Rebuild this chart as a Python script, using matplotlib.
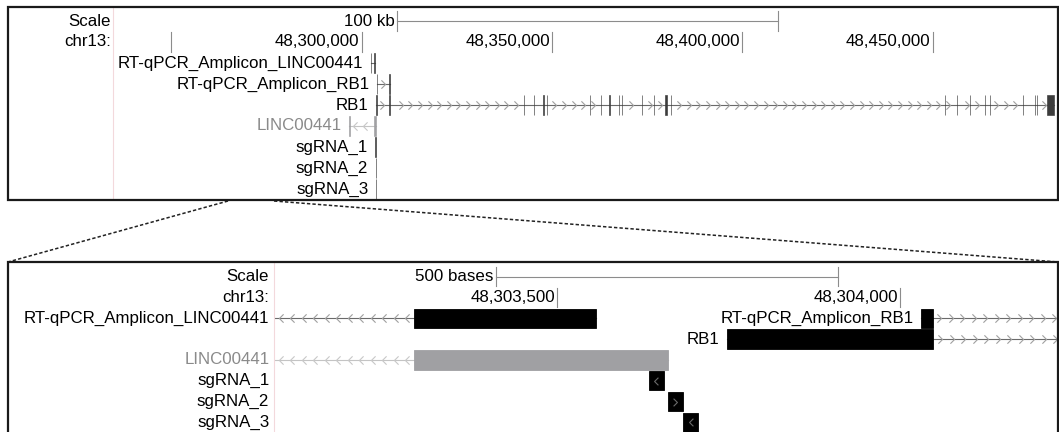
import matplotlib
matplotlib.use('Agg')

import matplotlib.pyplot as plt
from matplotlib.patches import Rectangle
from matplotlib.lines import Line2D
from matplotlib.path import Path
import numpy as np

plt.rcParams['font.family'] = ['Liberation Sans', 'DejaVu Sans']

W, H = 1059, 432
FS = 12.2

# ---- data (chr13, hg38) ----
top_xlim = (48234700, 48482900)
top_ticks = [48250000, 48300000, 48350000, 48400000, 48450000]
top_tick_labels = ['', '48,300,000', '48,350,000', '48,400,000', '48,450,000']
top_scale = (48309350, 48409350)
top_scale_label = '100 kb'

bot_xlim = (48303086, 48304231)
bot_ticks = [48303500, 48304000]
bot_tick_labels = ['48,303,500', '48,304,000']
bot_scale = (48303410, 48303910)
bot_scale_label = '500 bases'

names = ['RT-qPCR_Amplicon_LINC00441', 'RT-qPCR_Amplicon_RB1', 'RB1', 'LINC00441',
         'sgRNA_1', 'sgRNA_2', 'sgRNA_3']
strands = ['-', '+', '+', '-', '-', '+', '-']
grey_item = [False, False, False, True, False, False, False]

amp_linc_starts = [48302364, 48303291]
amp_linc_ends = [48302420, 48303556]
amp_rb1_starts = [48304031, 48307250]
amp_rb1_ends = [48304049, 48307380]
rb1_starts = [48303747, 48307250, 48342600, 48345250, 48347700, 48348600, 48359950,
              48362780, 48365040, 48367590, 48368300, 48373550, 48376780, 48379700,
              48381150, 48453230, 48456300, 48459800, 48463740, 48465050, 48473640,
              48476870, 48477320, 48479950]
rb1_ends = [48304049, 48307380, 48342720, 48345350, 48347800, 48348700, 48360050,
            48362880, 48365140, 48367690, 48368400, 48373650, 48376880, 48380280,
            48381250, 48453330, 48456400, 48459900, 48463840, 48465150, 48473740,
            48476970, 48477420, 48481890]
linc_starts = [48296743, 48303291]
linc_ends = [48296900, 48303662]
sg1_starts, sg1_ends = [48303633], [48303655]
sg2_starts, sg2_ends = [48303661], [48303683]
sg3_starts, sg3_ends = [48303684], [48303705]

item_starts = [amp_linc_starts, amp_rb1_starts, rb1_starts, linc_starts,
               sg1_starts, sg2_starts, sg3_starts]
item_ends = [amp_linc_ends, amp_rb1_ends, rb1_ends, linc_ends,
             sg1_ends, sg2_ends, sg3_ends]

top_rows = [2, 3, 4, 5, 6, 7, 8]
bot_rows = [2, 2, 3, 4, 5, 6, 7]
bot_label_left = [True, False, False, True, True, True, True]

# ---- styling ----
CHEV = {
    '+': Path([(-0.5, 1), (0.5, 0), (-0.5, -1)], [Path.MOVETO, Path.LINETO, Path.LINETO]),
    '-': Path([(0.5, 1), (-0.5, 0), (0.5, -1)], [Path.MOVETO, Path.LINETO, Path.LINETO]),
}
BLACK = '#000000'
GREY_BOX = '#a0a0a3'
GREY_TXT = '#8a8a8a'
PINK = '#f3d9dc'
TICK = '#8c8c8c'


def fig_box(x0, y0, x1, y1):
    return [x0 / W, 1 - y1 / H, (x1 - x0) / W, (y1 - y0) / H]


def setup(ax, xlim, row0, rowpx, y0, y1):
    ax.set_xlim(*xlim)
    ax.set_ylim((y1 - row0) / rowpx, (y0 - row0) / rowpx)
    ax.set_xticks([])
    ax.set_yticks([])
    for s in ['top', 'right', 'bottom']:
        ax.spines[s].set_visible(False)
    ax.spines['left'].set_color(PINK)
    ax.spines['left'].set_linewidth(0.8)
    ax.patch.set_alpha(0)


def left_label(ax, text, row, off, color=BLACK):
    ax.annotate(text, xy=(0, row), xycoords=('axes fraction', 'data'),
                xytext=(off, 0), textcoords='offset points',
                ha='right', va='center', fontsize=FS, color=color,
                annotation_clip=False)


def ruler(ax, scale, scale_label, ticks, tick_labels):
    ax.plot(scale, [0, 0], color=TICK, lw=0.8)
    for s in scale:
        ax.plot([s, s], [-0.47, 0.47], color=TICK, lw=0.8)
    ax.annotate(scale_label, xy=(scale[0], 0), xytext=(-1.5, 0),
                textcoords='offset points', ha='right', va='center', fontsize=FS)
    for t, lab in zip(ticks, tick_labels):
        ax.plot([t, t], [1 - 0.47, 1 + 0.47], color=TICK, lw=0.8)
        if lab:
            ax.annotate(lab, xy=(t, 1), xytext=(-1.5, 0), textcoords='offset points',
                        ha='right', va='center', fontsize=FS)


def draw_item(ax, starts, ends, row, strand, grey, chev_px, chev_ms, exon_col, exon_lw):
    x0, x1 = ax.get_xlim()
    bp_px = (x1 - x0) / ax.bbox.width
    col = GREY_BOX if grey else exon_col
    line_col = '#c4c4c4' if grey else '#6a6a6a'
    chev_col = '#c8c8c8' if grey else '#a0a0a0'
    lo, hi = max(min(starts), x0), min(max(ends), x1)
    if len(starts) > 1:
        ax.plot([lo, hi], [row, row], color=line_col, lw=0.8, zorder=1)
        pos = np.arange(lo + 0.6 * chev_px * bp_px, hi, chev_px * bp_px)
        keep = [p for p in pos
                if not any(s - 2.5 * bp_px <= p <= e + 2.5 * bp_px for s, e in zip(starts, ends))]
        ax.plot(keep, [row] * len(keep), ls='none', marker=CHEV[strand], ms=chev_ms,
                mec=chev_col, mfc='none', mew=0.8, zorder=1)
    for s, e in zip(starts, ends):
        ax.add_patch(Rectangle((s, row - 0.47), e - s, 0.94, facecolor=col,
                               edgecolor=col, lw=exon_lw, zorder=2))
        # single-block items carry their strand arrow inside the box
        if len(starts) == 1 and (e - s) / bp_px > 10:
            ax.plot([(s + e) / 2], [row], marker=CHEV[strand], ms=5.5, mec='#6a6a6a',
                    mfc='none', mew=0.8, zorder=3)


fig = plt.figure(figsize=(W / 100, H / 100), dpi=100)

# panel frames and zoom connectors
for (x0, y0, x1, y1) in [(8, 7, 1058, 200), (8, 262, 1058, 450)]:
    fig.patches.append(Rectangle((x0 / W, 1 - y1 / H), (x1 - x0) / W, (y1 - y0) / H,
                                 transform=fig.transFigure, fill=False,
                                 edgecolor='#1a1a1a', lw=1.6, zorder=5))
for (xa, ya, xb, yb) in [(228, 201, 8, 262), (274, 201, 1058, 262)]:
    fig.lines.append(Line2D([xa / W, xb / W], [1 - ya / H, 1 - yb / H],
                            transform=fig.transFigure, color='#222222', lw=1.1,
                            ls=(0, (2.2, 1.4))))

# ---- top panel ----
ax_top = fig.add_axes(fig_box(113, 8, 1058, 199))
setup(ax_top, top_xlim, 21, 21, 8, 199)
left_label(ax_top, 'Scale', 0, -1.5)
left_label(ax_top, 'chr13:', 1, -1.5)
ruler(ax_top, top_scale, top_scale_label, top_ticks, top_tick_labels)
for i in range(len(names)):
    draw_item(ax_top, item_starts[i], item_ends[i], top_rows[i], strands[i],
              grey_item[i], 9.6, 6, '#3c3c3c', 0.45)
    ax_top.annotate(names[i], xy=(min(item_starts[i]), top_rows[i]), xytext=(-5.2, 0),
                    textcoords='offset points', ha='right', va='center', fontsize=FS,
                    color=GREY_TXT if grey_item[i] else BLACK)

# ---- zoomed panel ----
ax_bot = fig.add_axes(fig_box(274, 263, 1058, 432))
setup(ax_bot, bot_xlim, 276.7, 20.8, 263, 432)
left_label(ax_bot, 'Scale', 0, -3.4)
left_label(ax_bot, 'chr13:', 1, -3.4)
ruler(ax_bot, bot_scale, bot_scale_label, bot_ticks, bot_tick_labels)
for i in range(len(names)):
    draw_item(ax_bot, item_starts[i], item_ends[i], bot_rows[i], strands[i],
              grey_item[i], 11.5, 6, BLACK, 0.6)
    color = GREY_TXT if grey_item[i] else BLACK
    if bot_label_left[i]:
        left_label(ax_bot, names[i], bot_rows[i], -3.4, color)
    else:
        ax_bot.annotate(names[i], xy=(min(item_starts[i]), bot_rows[i]), xytext=(-5, 0),
                        textcoords='offset points', ha='right', va='center',
                        fontsize=FS, color=color)

fig.savefig('out.png', dpi=100)
